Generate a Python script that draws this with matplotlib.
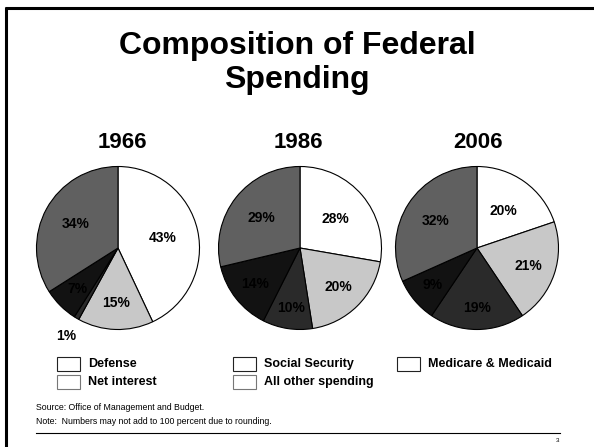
import matplotlib
matplotlib.use("Agg")
import matplotlib.pyplot as plt
from matplotlib.patches import Rectangle
import numpy as np

plt.rcParams['font.family'] = ['Liberation Sans', 'DejaVu Sans']

# ---- data ----
title = "Composition of Federal\nSpending"
years = ["1966", "1986", "2006"]
categories = ["Defense", "Social Security", "Medicare & Medicaid", "Net interest", "All other spending"]
values_1966 = [43, 15, 1, 7, 34]
values_1986 = [28, 20, 10, 14, 29]
values_2006 = [20, 21, 19, 9, 32]
all_values = [values_1966, values_1986, values_2006]
source_note = "Source: Office of Management and Budget."
rounding_note = "Note:  Numbers may not add to 100 percent due to rounding."
page_number = "3"

# ---- style ----
colors = ["#ffffff", "#c8c8c8", "#2a2a2a", "#121212", "#606060"]
label_dist = [0.56, 0.67, 0.74, 0.71, 0.60]
legend_edges = ["#222222", "#222222", "#222222", "#777777", "#777777"]

W, H = 594, 447
fig = plt.figure(figsize=(W / 100, H / 100), dpi=100)
bg = fig.add_axes([0, 0, 1, 1])
bg.set_xlim(0, W)
bg.set_ylim(H, 0)
bg.axis("off")

# frame
bg.plot([5, W], [7.5, 7.5], color="#000000", lw=2.2, solid_capstyle="butt")
bg.plot([6, 6], [7, H], color="#000000", lw=2.2, solid_capstyle="butt")

bg.text(297, 63, title, ha="center", va="center", fontsize=23, fontweight="bold",
        linespacing=1.17)

centers_x = [118, 300, 477]
year_x = [122, 298, 478]
cy = 248
r = 81.5
for i, vals in enumerate(all_values):
    bg.text(year_x[i], 143, years[i], ha="center", va="center", fontsize=16, fontweight="bold")
    R = r * 1.45
    cx = centers_x[i]
    ax = fig.add_axes([(cx - R) / W, (H - cy - R) / H, 2 * R / W, 2 * R / H])
    wedges, _ = ax.pie(vals, colors=colors, startangle=90, counterclock=False,
                       radius=1.0, wedgeprops=dict(edgecolor="#000000", linewidth=0.8))
    ax.set_xlim(-1.45, 1.45)
    ax.set_ylim(-1.45, 1.45)
    ax.set_aspect("equal")
    ax.axis("off")
    total = sum(vals)
    for j, w in enumerate(wedges):
        ang = np.deg2rad((w.theta1 + w.theta2) / 2)
        d = label_dist[j]
        if vals[j] / total < 0.03:
            d = 1.26
        ax.text(d * np.cos(ang), d * np.sin(ang), f"{vals[j]}%", ha="center", va="center",
                fontsize=10, fontweight="bold", color="#000000")

# legend
legend_pos = [(57, 364), (233, 364), (397, 364), (57, 382), (233, 382)]
for (lx, ly), name, ec in zip(legend_pos, categories, legend_edges):
    bg.add_patch(Rectangle((lx, ly - 7), 23, 14, facecolor="#ffffff", edgecolor=ec, lw=0.8))
    bg.text(lx + 31, ly, name, ha="left", va="center", fontsize=9, fontweight="bold")

bg.text(36, 408, source_note, ha="left", va="center", fontsize=6.3)
bg.text(36, 421, rounding_note, ha="left", va="center", fontsize=6.3)
bg.plot([36, 560], [432.5, 432.5], color="#000000", lw=0.8)
bg.text(558, 441, page_number, ha="center", va="center", fontsize=4.5)

fig.savefig("out.png", dpi=100)
